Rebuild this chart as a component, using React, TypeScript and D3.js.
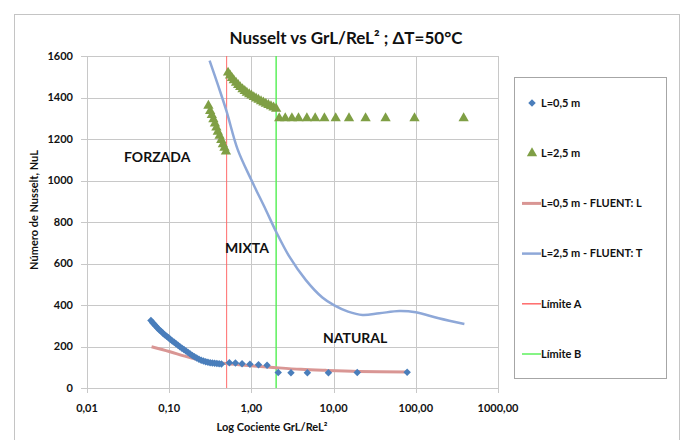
import React from 'react'
import * as d3 from 'd3'

// L=0,5 m (diamantes)
const l05X = [0.060, 0.063, 0.066, 0.069, 0.072, 0.076, 0.080, 0.084, 0.088, 0.093, 0.098, 0.103, 0.109, 0.115, 0.121, 0.128, 0.135, 0.143, 0.151, 0.160, 0.170, 0.180, 0.191, 0.203, 0.216, 0.230, 0.245, 0.261, 0.278, 0.296, 0.315, 0.335, 0.357, 0.380, 0.405, 0.432,
  0.54, 0.64, 0.77, 0.96, 1.22, 1.55, 2.12, 3.03, 4.8, 8.65, 19.4, 78.5]
const l05Y = [325, 315, 306, 297, 289, 280, 272, 264, 257, 249, 242, 235, 227, 220, 213, 206, 199, 192, 185, 178, 171, 164, 157, 151, 145, 139, 134, 130, 127, 124, 122, 120, 119, 118, 117, 116,
  122, 120, 117, 114, 112, 110, 75, 74, 74, 74, 75, 76]

// L=2,5 m (triangulos)
const l25X = [0.30, 0.315, 0.33, 0.345, 0.36, 0.375, 0.39, 0.41, 0.43, 0.45, 0.47, 0.49,
  0.52, 0.55, 0.58, 0.61, 0.65, 0.69, 0.73, 0.78, 0.83, 0.88, 0.94, 1.00, 1.07, 1.14, 1.22, 1.31, 1.40, 1.50, 1.61, 1.73, 1.86, 2.00,
  2.18, 2.58, 3.11, 3.74, 4.73, 5.97, 7.73, 10.6, 15.4, 24.5, 42.9, 96.4, 382]
const l25Y = [1360, 1335, 1315, 1295, 1275, 1255, 1235, 1215, 1195, 1175, 1158, 1140,
  1520, 1506, 1494, 1483, 1471, 1460, 1450, 1440, 1431, 1423, 1416, 1410, 1402, 1395, 1389, 1382, 1376, 1370, 1364, 1358, 1352, 1346,
  1300, 1300, 1300, 1300, 1300, 1300, 1300, 1300, 1300, 1300, 1300, 1300, 1300]

// FLUENT
const fluentLX = [0.061, 0.1, 0.15, 0.21, 0.3, 0.49, 0.94, 2.0, 4, 8, 20, 78]
const fluentLY = [199, 176, 155, 139, 128, 118, 108, 98, 90, 85, 80, 77]
const fluentTX = [0.31, 0.4, 0.5, 0.68, 1.0, 1.5, 2.0, 2.9, 4.6, 7.3, 10.2, 15, 22.5, 36, 63, 100, 190, 390]
const fluentTY = [1578, 1450, 1332, 1150, 1002, 858, 753, 633, 520, 436, 398, 368, 352, 360, 371, 365, 336, 308]

const limiteA = 0.5
const limiteB = 2.0

const xTicks = [0.01, 0.1, 1, 10, 100, 1000]
const xTickLabels = ['0,01', '0,10', '1,00', '10,00', '100,00', '1000,00']
const yTicks = [0, 200, 400, 600, 800, 1000, 1200, 1400, 1600]

const legendItems = ['L=0,5 m', 'L=2,5 m', 'L=0,5 m - FLUENT: L', 'L=2,5 m - FLUENT: T', 'Límite A', 'Límite B']

const FONT = 'Lato, "Open Sans", sans-serif'
const C_DIAMOND = '#4A7EBB'
const C_TRI = '#7F9F45'
const C_PINK = '#D99694'
const C_BLUE = '#8EA8D8'
const C_RED = '#FF6A6A'
const C_GREEN = '#5CF05C'

export default function App() {
  const x = d3.scaleLog().domain([0.01, 1000]).range([87, 498])
  const y = d3.scaleLinear().domain([0, 1600]).range([388, 56])

  const smooth = d3.line<[number, number]>()
    .x(d => x(d[0]))
    .y(d => y(d[1]))
    .curve(d3.curveCatmullRom.alpha(0.5))

  const lineL = smooth(fluentLX.map((v, i) => [v, fluentLY[i]]))
  const lineT = smooth(fluentTX.map((v, i) => [v, fluentTY[i]]))

  // diamante = cuadrado girado 45°
  const diamond = d3.symbol().type(d3.symbolSquare).size(28)()
  const triangle = d3.symbol().type(d3.symbolTriangle).size(46)()

  const legendY = d3.scalePoint<string>().domain(legendItems).range([103, 354])

  return (
    <svg width={681} height={440} style={{ position: 'absolute', left: 0, top: 0, fontFamily: FONT }}>
      <rect x={0} y={0} width={681} height={440} fill="#fff" />
      <rect x={14.5} y={14.5} width={665} height={440} fill="none" stroke="#C4C4C4" />

      <text x={346} y={44} textAnchor="middle" fontSize={17} fontWeight={700} fill="#111">
        Nusselt vs GrL/ReL² ; ΔT=50°C
      </text>

      {/* grid */}
      {yTicks.map(t => (
        <g key={'y' + t}>
          <line x1={81} x2={498} y1={Math.round(y(t)) + 0.5} y2={Math.round(y(t)) + 0.5} stroke="#C8C8C8" />
          <text x={73} y={y(t)} dy="0.35em" textAnchor="end" fontSize={11} fontWeight={700} fill="#111">{t}</text>
        </g>
      ))}
      {xTicks.map((t, i) => (
        <g key={'x' + t}>
          <line x1={Math.round(x(t)) + 0.5} x2={Math.round(x(t)) + 0.5} y1={56} y2={393} stroke="#C8C8C8" />
          <text x={x(t)} y={412} textAnchor="middle" fontSize={11} fontWeight={700} fill="#111">{xTickLabels[i]}</text>
        </g>
      ))}

      <text x={272} y={431} textAnchor="middle" fontSize={11} fontWeight={700} fill="#111">Log Cociente GrL/ReL²</text>
      <text transform="translate(38,210) rotate(-90)" textAnchor="middle" fontSize={11} fontWeight={700} fill="#111">
        Número de Nusselt, NuL
      </text>

      {/* limites */}
      <line x1={x(limiteA)} x2={x(limiteA)} y1={y(0)} y2={y(1600)} stroke={C_RED} strokeWidth={1} />
      <line x1={x(limiteB)} x2={x(limiteB)} y1={y(0)} y2={y(1600)} stroke={C_GREEN} strokeWidth={1.5} />

      {/* fluent lines */}
      <path d={lineT ?? ''} fill="none" stroke={C_BLUE} strokeWidth={2.5} />
      <path d={lineL ?? ''} fill="none" stroke={C_PINK} strokeWidth={3} />

      {/* markers */}
      {l05X.map((v, i) => (
        <path key={'d' + i} d={diamond ?? ''} transform={`translate(${x(v)},${y(l05Y[i])}) rotate(45)`} fill={C_DIAMOND} />
      ))}
      {l25X.map((v, i) => (
        <path key={'t' + i} d={triangle ?? ''} transform={`translate(${x(v)},${y(l25Y[i])})`} fill={C_TRI} />
      ))}

      {/* region labels */}
      <text x={124} y={162} fontSize={14} fontWeight={700} fill="#111">FORZADA</text>
      <text x={225} y={253} fontSize={14} fontWeight={700} fill="#111">MIXTA</text>
      <text x={323} y={343} fontSize={14} fontWeight={700} fill="#111">NATURAL</text>

      {/* legend */}
      <rect x={514.5} y={77.5} width={152} height={301} fill="#fff" stroke="#A6A6A6" />
      {legendItems.map((name, i) => {
        const ly = legendY(name) ?? 0
        return (
          <g key={name}>
            {i === 0 && <path d={diamond ?? ''} transform={`translate(532,${ly}) rotate(45)`} fill={C_DIAMOND} />}
            {i === 1 && <path d={triangle ?? ''} transform={`translate(532,${ly})`} fill={C_TRI} />}
            {i === 2 && <line x1={522} x2={541} y1={ly} y2={ly} stroke={C_PINK} strokeWidth={3} />}
            {i === 3 && <line x1={522} x2={541} y1={ly} y2={ly} stroke={C_BLUE} strokeWidth={2.5} />}
            {i === 4 && <line x1={522} x2={541} y1={ly} y2={ly} stroke={C_RED} strokeWidth={1.5} />}
            {i === 5 && <line x1={522} x2={541} y1={ly} y2={ly} stroke={C_GREEN} strokeWidth={1.5} />}
            <text x={541} y={ly} dy="0.35em" fontSize={11} fontWeight={700} fill="#111">{name}</text>
          </g>
        )
      })}
    </svg>
  )
}
